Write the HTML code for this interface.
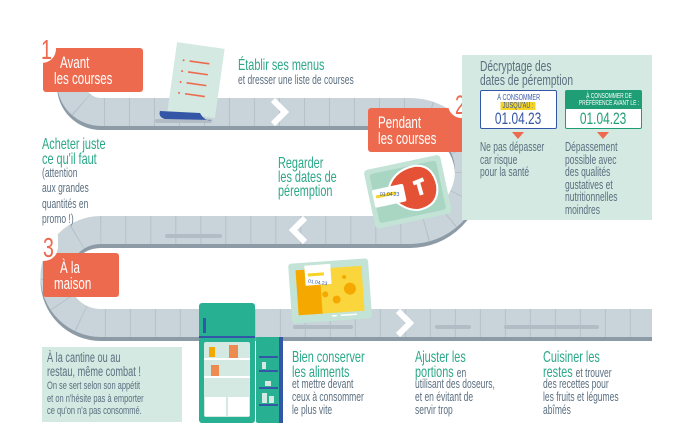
<!DOCTYPE html>
<html><head><meta charset="utf-8">
<style>
body{margin:0;background:#fff;}
#w{position:relative;width:693px;height:440px;overflow:hidden;font-family:"Liberation Sans",sans-serif;}
.t{position:absolute;white-space:nowrap;transform:scaleX(.68);transform-origin:0 0;}
.g{color:#2aa887;font-size:16px;line-height:15px;}
.s{color:#5b6f80;font-size:12.5px;line-height:14.5px;}
.ob{position:absolute;background:#ed6a4f;border-radius:3px;color:#fff;font-size:17px;line-height:16px;}
.ob .t{color:#fff}
.num{position:absolute;color:#ed6a4f;font-size:28px;line-height:26px;background:#fff;border-radius:0 0 14px 0;width:12px;overflow:visible}
.dt{position:absolute;left:0;width:100%;text-align:center;white-space:nowrap;}
.dt span{display:inline-block;transform:scaleX(.7);}
</style></head><body><div id="w">
<svg width="693" height="440" style="position:absolute;left:0;top:0">
<g fill="none" stroke-linejoin="round">
<path d="M71,82 A30,30 0 0 0 101,112 L410,112 A59,59 0 0 1 410,230 L101,230 A46.5,46.5 0 0 0 101,323 L652,323" stroke="#8d9ba6" stroke-width="28" transform="translate(0,4)"/>
<path d="M71,82 A30,30 0 0 0 101,112 L410,112 A59,59 0 0 1 410,230 L101,230 A46.5,46.5 0 0 0 101,323 L652,323" stroke="#c9d3da" stroke-width="28"/>
<path d="M71,82 A30,30 0 0 0 101,112 L410,112 A59,59 0 0 1 410,230 L101,230 A46.5,46.5 0 0 0 101,323 L652,323" stroke="#b5c0c8" stroke-width="28" stroke-dasharray="1 24"/>
</g>
<g fill="#b2bcc4"><rect x="155" y="119" width="57" height="4" rx="2"/><rect x="165" y="234" width="57" height="4" rx="2"/><rect x="293" y="325" width="60" height="4" rx="2"/><rect x="435" y="325" width="36" height="4" rx="2"/><rect x="504" y="325" width="95" height="4" rx="2"/></g>
<g fill="none" stroke="#fff" stroke-width="6"><path d="M273,100 L285,112 L273,124"/><path d="M305,218 L293,230 L305,242"/><path d="M398,311 L410,323 L398,335"/></g>
<g transform="rotate(8 195 80)"><rect x="172" y="45" width="48" height="70" fill="#d3e9e1"/>
<g stroke="#ed6a4f" stroke-width="1.6"><line x1="187" y1="62" x2="207" y2="62"/><line x1="187" y1="73" x2="207" y2="73"/><line x1="187" y1="84" x2="207" y2="84"/><line x1="187" y1="95" x2="207" y2="95"/></g>
<g fill="#ed6a4f"><circle cx="181" cy="62" r="1"/><circle cx="181" cy="73" r="1"/><circle cx="181" cy="84" r="1"/><circle cx="181" cy="95" r="1"/></g></g>
<path d="M160,111 L200,113 Q205,122 212,120 L165,119 Q158,117 160,111 Z" fill="#3456a7"/>
<g transform="rotate(-12 407 193)"><rect x="369" y="162" width="78" height="60" rx="4" fill="#c2e3d6"/><rect x="374" y="167" width="68" height="50" rx="3" fill="#a9d5c3"/>
<path d="M388,190 Q395,168 420,168 Q438,170 438,192 Q436,212 415,212 Q400,210 388,190 Z" fill="#e45134" stroke="#fff" stroke-width="2"/>
<path d="M415,185 L426,183 M420,184 L421,198" stroke="#fff" stroke-width="4" fill="none"/>
<rect x="373" y="183" width="32" height="18" rx="2" fill="#fff"/><rect x="376" y="189" width="20" height="3" fill="#f5d327"/></g>
<text x="380" y="196" font-size="5" fill="#3456a7" font-family="Liberation Sans">01.04.23</text>
<g transform="rotate(-4 330 290)"><rect x="290" y="261" width="80" height="60" rx="3" fill="#c2e3d6"/>
<rect x="297" y="268" width="66" height="45" fill="#fad53c"/><rect x="297" y="268" width="24" height="45" fill="#f5a800"/>
<g fill="#f5a800"><circle cx="350" cy="290" r="6"/><circle cx="336" cy="300" r="4"/><circle cx="345" cy="278" r="2"/><circle cx="325" cy="294" r="3"/></g>
<rect x="306" y="264" width="26" height="20" fill="#fff"/><rect x="309" y="272" width="16" height="3" fill="#f5d327"/>
<g stroke="#fff" stroke-width="1.5"><line x1="330" y1="316" x2="335" y2="316"/><line x1="339" y1="316" x2="355" y2="316"/></g></g>
<text x="308" y="284" font-size="5" fill="#3456a7" font-family="Liberation Sans" transform="rotate(8 318 282)">01.04.23</text>
<rect x="199" y="303" width="56" height="120" rx="3" fill="#27b092"/>
<rect x="199" y="336" width="56" height="2" fill="#3456a7"/>
<rect x="203" y="318" width="3" height="15" fill="#3456a7"/>
<rect x="204" y="342" width="46" height="75" rx="2" fill="#d3e9e1"/>
<g fill="#fff"><rect x="204" y="358" width="46" height="2"/><rect x="204" y="376" width="46" height="2"/><rect x="205" y="397" width="21" height="19"/><rect x="228" y="397" width="21" height="19"/></g>
<g fill="#f5a800"><rect x="209" y="347" width="6" height="10"/></g><g fill="#ed8a4f"><rect x="229" y="345" width="9" height="13"/><rect x="211" y="365" width="8" height="11"/><rect x="264" y="348" width="7" height="5" fill="#f5a800"/><rect x="266" y="360" width="5" height="9"/></g>
<rect x="256" y="337" width="27" height="86" rx="2" fill="#27b092"/><rect x="279" y="337" width="4" height="86" fill="#3456a7"/>
<g fill="#3456a7"><rect x="259" y="356" width="19" height="2"/><rect x="259" y="370" width="19" height="2"/><rect x="259" y="387" width="19" height="2"/><rect x="259" y="404" width="19" height="2"/></g>
<g fill="#d3e9e1"><rect x="262" y="393" width="5" height="10"/><rect x="269" y="396" width="5" height="7"/><rect x="262" y="362" width="4" height="7"/><rect x="265" y="381" width="6" height="5"/></g>
</svg>

<div class="ob" style="left:43px;top:48px;width:100px;height:44px"><div class="t" style="left:17px;top:7px">Avant</div><div class="t" style="left:11px;top:23px">les courses</div></div>
<div class="num" style="left:38px;top:37px;padding:0 3px"><span style="display:inline-block;transform:scaleX(.7);transform-origin:0 0">1</span></div>
<div class="ob" style="left:368px;top:108px;width:100px;height:44px"><div class="t" style="left:10px;top:7px">Pendant</div><div class="t" style="left:10px;top:23px">les courses</div></div>
<div style="position:absolute;left:448px;top:91px;width:27px;height:27px;border-radius:50%;background:#fff"></div>
<div class="t" style="left:455px;top:93px;color:#ed6a4f;font-size:27px;line-height:25px">2</div>
<div class="ob" style="left:43px;top:253px;width:76px;height:44px"><div class="t" style="left:17px;top:7px">À la</div><div class="t" style="left:11px;top:23px">maison</div></div>
<div class="num" style="left:40px;top:235px;padding:0 3px"><span style="display:inline-block;transform:scaleX(.7);transform-origin:0 0">3</span></div>

<div class="t g" style="left:238px;top:58px">Établir ses menus</div>
<div class="t s" style="left:238px;top:73px">et dresser une liste de courses</div>
<div class="t g" style="left:42px;top:137px">Acheter juste<br>ce qu'il faut</div>
<div class="t s" style="left:42px;top:166px;line-height:15.3px">(attention<br>aux grandes<br>quantités en<br>promo !)</div>
<div class="t g" style="left:278px;top:157px;line-height:14px">Regarder<br>les dates de<br>péremption</div>

<div style="position:absolute;left:462px;top:55px;width:190px;height:165px;background:#d3e9e1"></div>
<div class="t" style="left:480px;top:60px;color:#5b6f80;font-size:15px;line-height:14px">Décryptage des<br>dates de péremption</div>
<div style="position:absolute;left:480px;top:90px;width:75px;height:37px;border:1px solid #3456a7;background:#fff;border-radius:2px;color:#3456a7">
<div class="dt" style="top:3px;font-size:8px;line-height:8px"><span>À CONSOMMER</span></div><div class="dt" style="top:11px;font-size:8px;line-height:8px"><span style="background:#f5d327;padding:0 3px">JUSQU'AU :</span></div><div class="dt" style="top:20px;font-size:17px;line-height:15px"><span>01.04.23</span></div></div>
<div style="position:absolute;left:565px;top:90px;width:75px;height:37px;border:1px solid #1f9e76;background:#fff;border-radius:2px;color:#1f9e76">
<div style="position:absolute;left:0;top:0;width:75px;height:18px;background:#1f9e76"></div>
<div class="dt" style="top:2px;color:#fff;font-size:7px;line-height:7px"><span>À CONSOMMER DE<br>PRÉFÉRENCE AVANT LE :</span></div><div class="dt" style="top:20px;font-size:17px;line-height:15px"><span>01.04.23</span></div></div>
<div style="position:absolute;left:512px;top:132px;border-left:6px solid transparent;border-right:6px solid transparent;border-top:7px solid #ed6a4f"></div>
<div style="position:absolute;left:597px;top:132px;border-left:6px solid transparent;border-right:6px solid transparent;border-top:7px solid #ed6a4f"></div>
<div class="t s" style="left:480px;top:141px;line-height:12.5px">Ne pas dépasser<br>car risque<br>pour la santé</div>
<div class="t s" style="left:565px;top:141px;line-height:12.5px">Dépassement<br>possible avec<br>des qualités<br>gustatives et<br>nutritionnelles<br>moindres</div>

<div style="position:absolute;left:42px;top:347px;width:140px;height:75px;background:#d3e9e1"></div>
<div class="t" style="left:47px;top:351px;color:#5b6f80;font-size:13.5px;line-height:14px">À la cantine ou au<br>restau, même combat !</div>
<div class="t" style="left:47px;top:380px;color:#5b6f80;font-size:11px;line-height:12.5px">On se sert selon son appétit<br>et on n'hésite pas à emporter<br>ce qu'on n'a pas consommé.</div>

<div class="t g" style="left:292px;top:350px">Bien conserver<br>les aliments</div>
<div class="t s" style="left:292px;top:378px;line-height:13px">et mettre devant<br>ceux à consommer<br>le plus vite</div>
<div class="t g" style="left:415px;top:350px">Ajuster les<br>portions <span style="color:#5b6f80;font-size:12.5px">en</span></div>
<div class="t s" style="left:415px;top:378px;line-height:13px">utilisant des doseurs,<br>et en évitant de<br>servir trop</div>
<div class="t g" style="left:543px;top:350px">Cuisiner les<br>restes <span style="color:#5b6f80;font-size:12.5px">et trouver</span></div>
<div class="t s" style="left:543px;top:378px;line-height:13px">des recettes pour<br>les fruits et légumes<br>abîmés</div>
</div></body></html>
